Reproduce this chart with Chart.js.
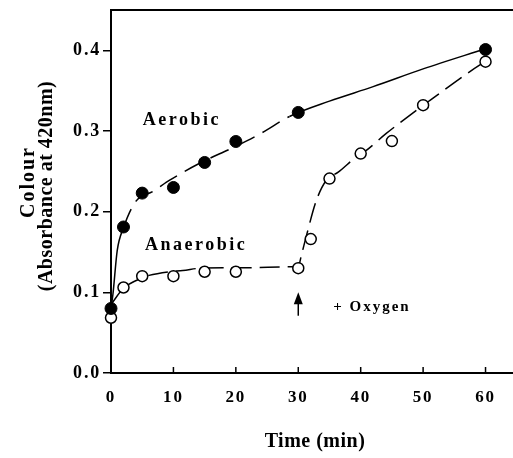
<!DOCTYPE html>
<html>
<head>
<meta charset="utf-8">
<script src="https://cdn.jsdelivr.net/npm/chart.js@4/dist/chart.umd.min.js"></script>
<style>
html,body{margin:0;padding:0;background:#fff;}
canvas{display:block;}
</style>
</head>
<body>
<canvas id="c" width="513" height="458"></canvas>
<script>
// ---- data ----
const aerobicTime = [0, 2, 5, 10, 15, 20, 30, 60];
const aerobicAbs  = [0.080, 0.181, 0.223, 0.230, 0.261, 0.287, 0.323, 0.401];
const anaerobicTime = [0, 2, 5, 10, 15, 20, 30, 32, 35, 40, 45, 50, 60];
const anaerobicAbs  = [0.0685, 0.106, 0.120, 0.120, 0.1255, 0.1255, 0.130, 0.166, 0.241, 0.272, 0.2875, 0.332, 0.386];
// fitted curves
const aerobicFitTime = [0, 0.3, 1, 2, 4, 6.7, 9.4, 14.2, 19.7, 24, 28.6, 35, 42, 50, 60];
const aerobicFitAbs  = [0.080, 0.097, 0.152, 0.180, 0.213, 0.225, 0.239, 0.260, 0.280, 0.297, 0.318, 0.337, 0.355, 0.377, 0.402];
const anaerobicFitTime = [0, 2, 5, 6.1, 9.3, 11.5, 14.5, 21.5, 29, 30, 30.5, 31.3, 32.9, 34.5, 36.4, 39.3, 40.9, 44.1, 49, 51.1, 55, 59.1, 60];
const anaerobicFitAbs  = [0.085, 0.105, 0.118, 0.121, 0.1255, 0.127, 0.130, 0.1305, 0.1317, 0.132, 0.146, 0.170, 0.214, 0.239, 0.249, 0.268, 0.276, 0.297, 0.326, 0.338, 0.360, 0.382, 0.386];
const xTickValues = [0, 10, 20, 30, 40, 50, 60];
const yTickValues = [0.0, 0.1, 0.2, 0.3, 0.4];
const seriesLabels = ['Aerobic', 'Anaerobic'];
const oxygenNote = '+ Oxygen';
const oxygenTime = 30;
const xTitle = 'Time (min)';
const yTitleLines = ['Colour', '(Absorbance at 420nm)'];

const pts = (xs, ys) => xs.map((x, i) => ({x: x, y: ys[i]}));
const SERIF = '"Liberation Serif", "Times New Roman", serif';

const annot = {
  id: 'annot',
  beforeDraw(chart) { chart.ctx.letterSpacing = '1.8px'; },
  afterDraw(chart) {
    const ctx = chart.ctx, xs = chart.scales.x, ys = chart.scales.y, ca = chart.chartArea;
    ctx.save();
    ctx.strokeStyle = '#000'; ctx.fillStyle = '#000';
    // top frame line
    ctx.lineWidth = 2;
    ctx.beginPath(); ctx.moveTo(ca.left - 1, ca.top); ctx.lineTo(ca.right, ca.top); ctx.stroke();
    // inward x ticks
    ctx.lineWidth = 1.5;
    xTickValues.forEach(v => {
      const px = xs.getPixelForValue(v);
      ctx.beginPath(); ctx.moveTo(px, ca.bottom); ctx.lineTo(px, ca.bottom - 6); ctx.stroke();
    });
    // series labels
    ctx.letterSpacing = '2.5px';
    ctx.font = 'bold 18px ' + SERIF;
    ctx.textAlign = 'left'; ctx.textBaseline = 'middle';
    ctx.fillText(seriesLabels[0], xs.getPixelForValue(5.1), ys.getPixelForValue(0.3135));
    ctx.fillText(seriesLabels[1], xs.getPixelForValue(5.45), ys.getPixelForValue(0.1577));
    ctx.letterSpacing = '2px';
    ctx.font = 'bold 15px ' + SERIF;
    ctx.fillText(oxygenNote, xs.getPixelForValue(35.6), ys.getPixelForValue(0.082));
    // arrow
    const ax = xs.getPixelForValue(oxygenTime);
    const tip = ys.getPixelForValue(0.1), tail = ys.getPixelForValue(0.071);
    ctx.lineWidth = 1.5;
    ctx.beginPath(); ctx.moveTo(ax, tail); ctx.lineTo(ax, tip + 6); ctx.stroke();
    ctx.beginPath(); ctx.moveTo(ax, tip); ctx.lineTo(ax - 4.5, tip + 12); ctx.lineTo(ax + 4.5, tip + 12); ctx.closePath(); ctx.fill();
    // axis titles
    ctx.letterSpacing = '0.5px';
    ctx.font = 'bold 20px ' + SERIF;
    ctx.textAlign = 'center'; ctx.textBaseline = 'middle';
    ctx.fillText(xTitle, 315, 442);
    ctx.save();
    ctx.translate(29, 182); ctx.rotate(-Math.PI / 2);
    ctx.letterSpacing = '2px';
    ctx.fillText(yTitleLines[0], 0, 0);
    ctx.restore();
    ctx.save();
    ctx.translate(47, 186); ctx.rotate(-Math.PI / 2);
    ctx.letterSpacing = '0.5px';
    ctx.fillText(yTitleLines[1], 0, 0);
    ctx.restore();
    ctx.restore();
  }
};

const dashA = ctx => {
  const x0 = ctx.p0.parsed.x, x1 = ctx.p1.parsed.x;
  if (x1 <= 2 || x0 >= 28.6) return [];
  return [20, 9];
};
const dashB = ctx => {
  const x1 = ctx.p1.parsed.x;
  if (x1 <= 2) return [];
  return [20, 8];
};

new Chart(document.getElementById('c'), {
  type: 'line',
  data: {
    datasets: [
      { label: 'Aerobic fit', data: pts(aerobicFitTime, aerobicFitAbs), borderColor: '#000', borderWidth: 1.5,
        pointRadius: 0, cubicInterpolationMode: 'monotone', fill: false, clip: false, order: 4,
        segment: { borderDash: dashA } },
      { label: 'Anaerobic fit', data: pts(anaerobicFitTime, anaerobicFitAbs), borderColor: '#000', borderWidth: 1.5,
        pointRadius: 0, cubicInterpolationMode: 'monotone', fill: false, clip: false, order: 3,
        segment: { borderDash: dashB } },
      { label: 'Anaerobic', data: pts(anaerobicTime, anaerobicAbs), showLine: false,
        pointRadius: 5.5, pointBorderWidth: 1.5, pointBackgroundColor: '#fff', pointBorderColor: '#000',
        clip: false, order: 2 },
      { label: 'Aerobic', data: pts(aerobicTime, aerobicAbs), showLine: false,
        pointRadius: 6, pointBorderWidth: 1, pointBackgroundColor: '#000', pointBorderColor: '#000',
        clip: false, order: 1 }
    ]
  },
  options: {
    responsive: false,
    animation: false,
    events: [],
    layout: { autoPadding: false, padding: { top: 10, right: 0, left: 0, bottom: 0 } },
    plugins: { legend: { display: false }, tooltip: { enabled: false } },
    scales: {
      x: {
        type: 'linear', min: 0, max: 64.4,
        afterBuildTicks: s => { s.ticks = xTickValues.map(v => ({value: v})); },
        afterFit: s => { s.height = 85; s.paddingLeft = 0; s.paddingRight = 0; },
        grid: { display: true, drawOnChartArea: false, drawTicks: false, color: '#000' },
        border: { display: true, color: '#000', width: 2 },
        ticks: { color: '#000', padding: 14, maxRotation: 0, autoSkip: false,
          font: { family: SERIF, size: 17, weight: 'bold' },
          callback: v => String(v) }
      },
      y: {
        type: 'linear', min: 0, max: 0.45,
        afterBuildTicks: s => { s.ticks = yTickValues.map(v => ({value: v})); },
        afterFit: s => { s.width = 111; s.paddingTop = 0; s.paddingBottom = 0; },
        grid: { display: true, drawOnChartArea: false, drawTicks: true, tickLength: 8, color: '#000', lineWidth: 1.5 },
        border: { display: true, color: '#000', width: 2 },
        ticks: { color: '#000', padding: 2, autoSkip: false,
          font: { family: SERIF, size: 18, weight: 'bold' },
          callback: v => Number(v).toFixed(1) }
      }
    }
  },
  plugins: [annot]
});
</script>
</body>
</html>
